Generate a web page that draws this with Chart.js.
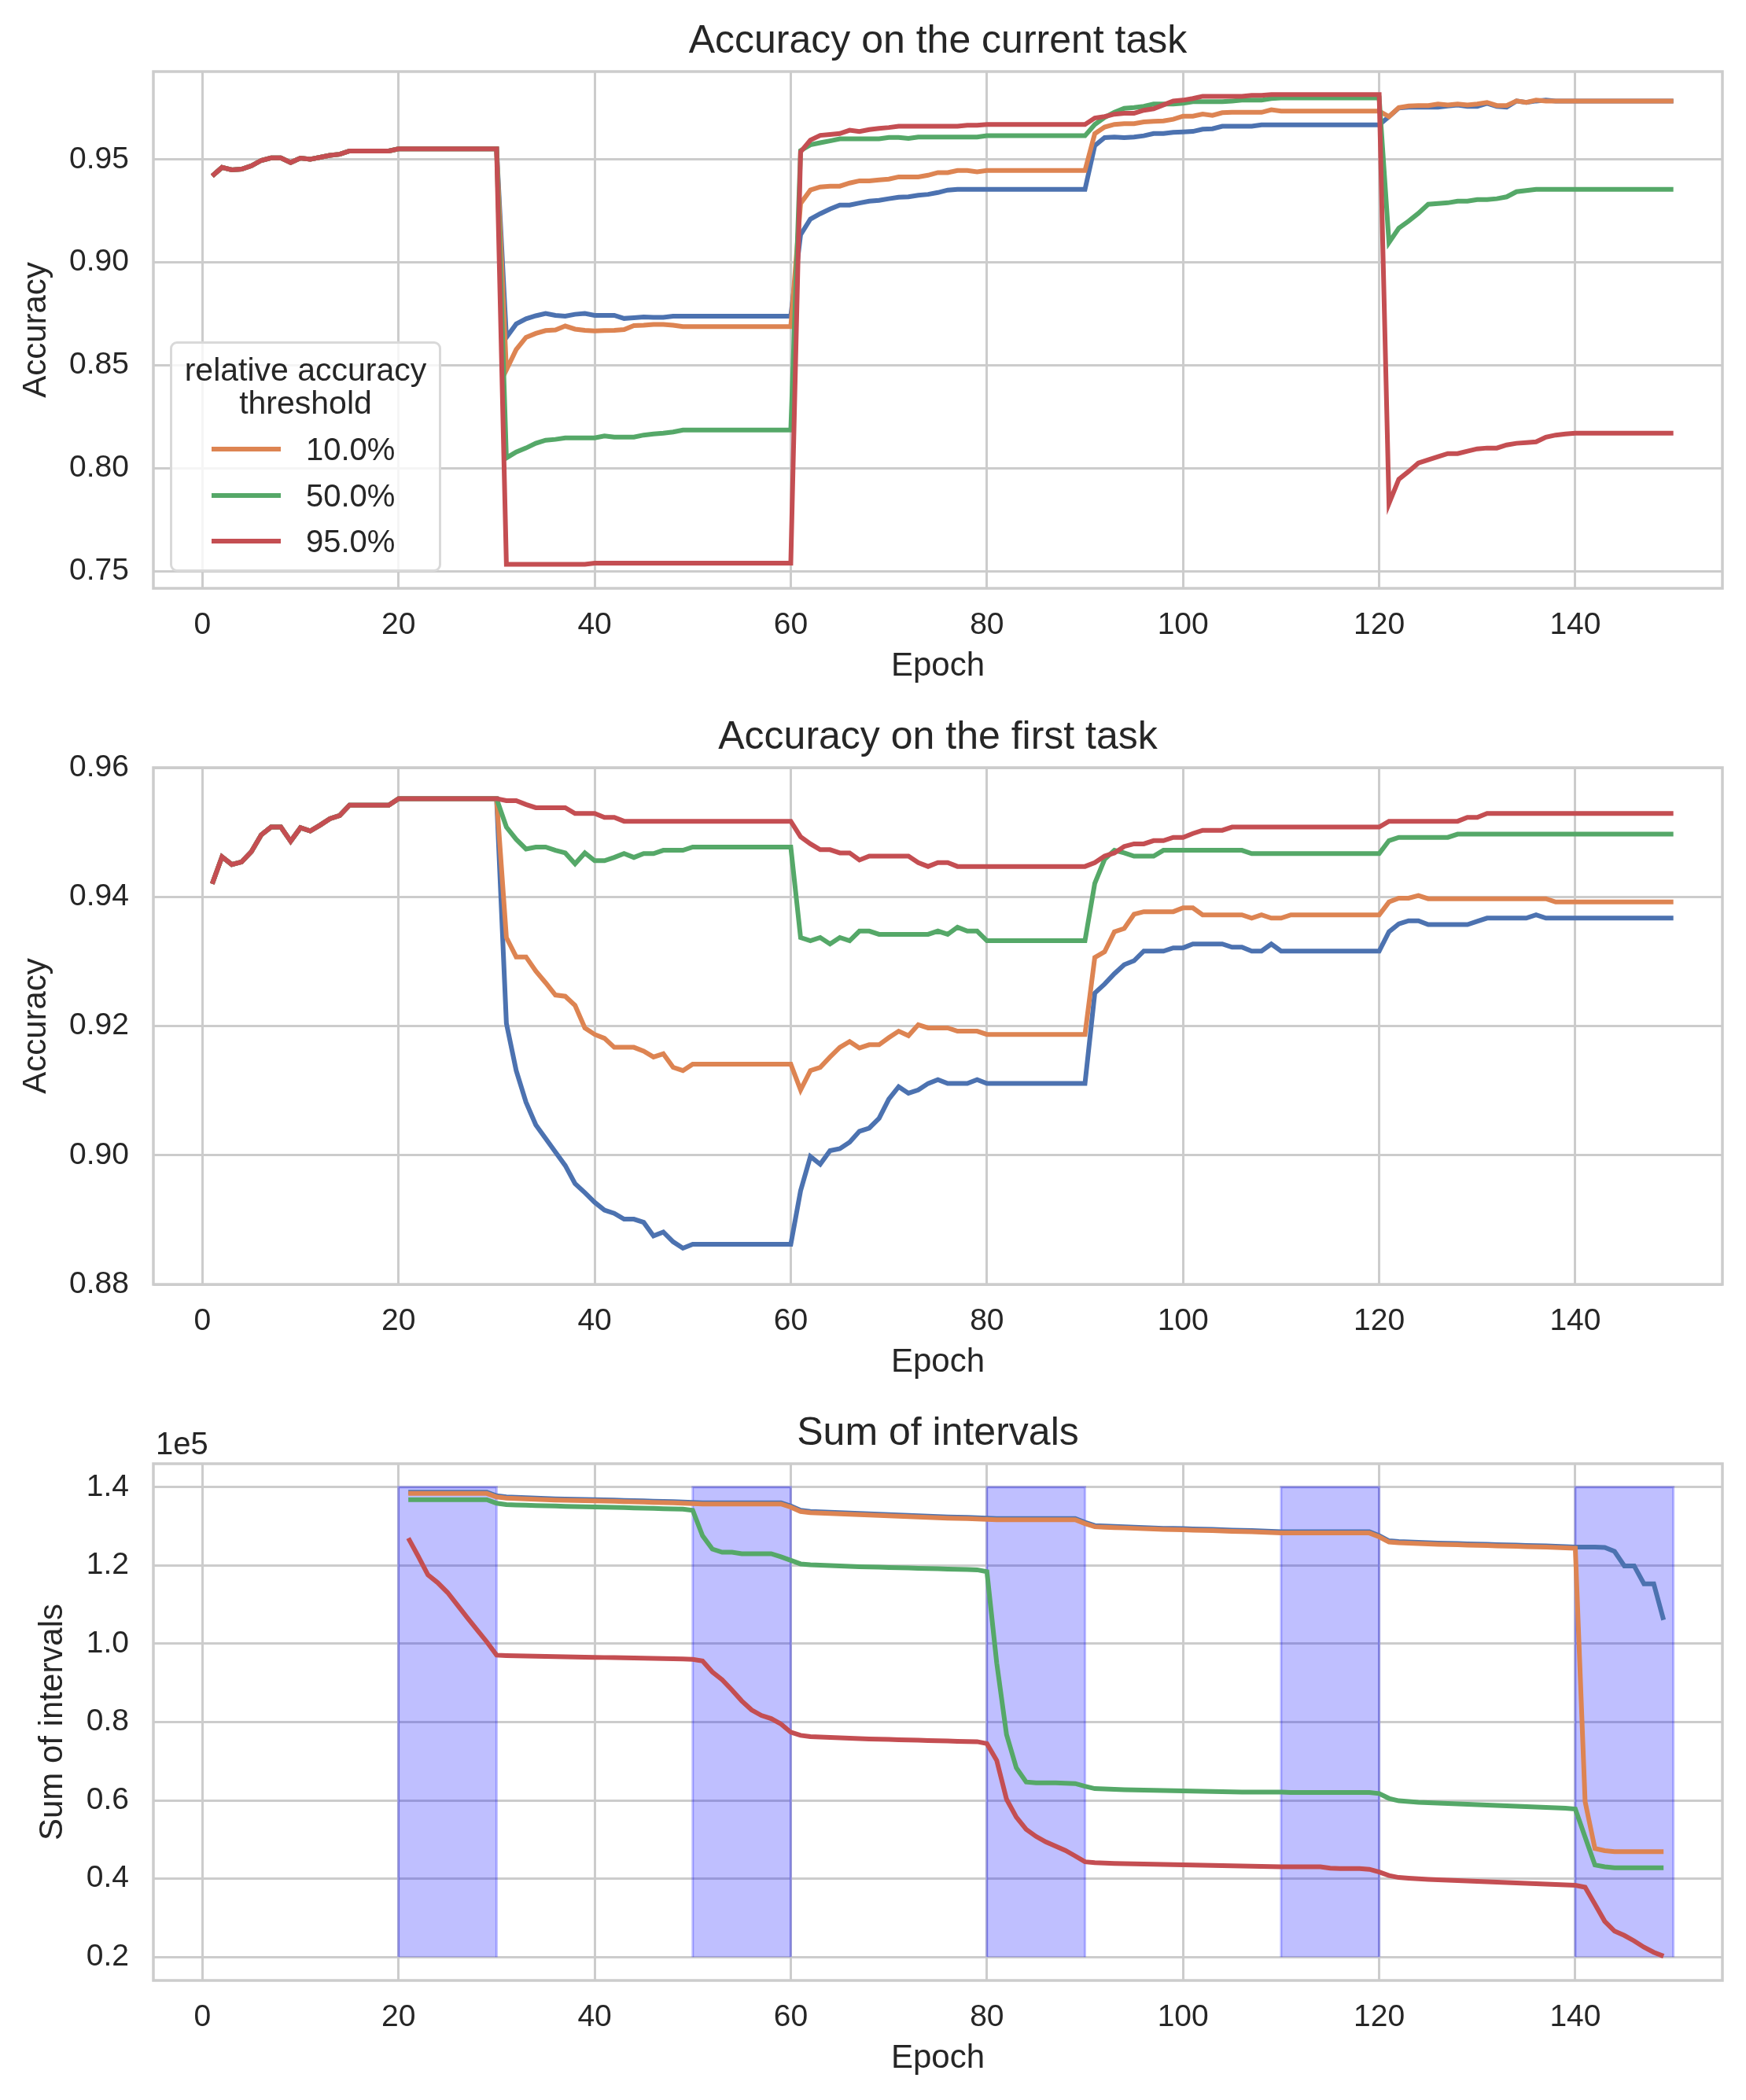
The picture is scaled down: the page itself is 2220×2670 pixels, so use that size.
<!DOCTYPE html>
<html>
<head>
<meta charset="utf-8">
<title>Accuracy and sum of intervals</title>
<script src="https://cdn.jsdelivr.net/npm/chart.js@4.4.1/dist/chart.umd.min.js"></script>
<style>
  html, body { margin: 0; padding: 0; background: #fff; }
  body { width: 2220px; height: 2670px; position: relative; overflow: hidden;
         font-family: 'Liberation Sans', Arial, sans-serif; color: #262626; }
  .panel { position: absolute; left: 0; width: 2220px; height: 880px; }
  .panel canvas { display: block; }
  #legend { position: absolute; left: 216px; top: 434px; width: 339px; height: 287px;
            border: 3px solid #d9d9d9; border-radius: 9px; background: rgba(255,255,255,0.8); }
  #legend .t { position: absolute; left: 0; width: 100%; text-align: center; font-size: 41px;
               height: 50px; line-height: 50px; white-space: nowrap; }
  #legend .row { position: absolute; left: 0; width: 100%; height: 50px; }
  #legend .swatch { position: absolute; left: 50px; top: 22px; width: 88px; height: 6px; }
  #legend .lab { position: absolute; left: 170px; top: 0; font-size: 40px; line-height: 50px; }
</style>
</head>
<body>
<div class="panel" style="top:0px"><canvas id="current" width="2220" height="880"></canvas></div>
<div class="panel" style="top:885px"><canvas id="first" width="2220" height="880"></canvas></div>
<div class="panel" style="top:1770px"><canvas id="sums" width="2220" height="880"></canvas></div>
<div id="legend"></div>

<script>
// epochs 1..150 on the accuracy panels, 21..149 on the intervals panel
var epochs = [];
for (var e = 1; e <= 150; e++) epochs.push(e);
var sumEpochs = epochs.slice(20, 149);

var thresholds = ['', '10.0%', '50.0%', '95.0%'];
var legendTitle = ['relative accuracy', 'threshold'];

var xTicks = [0, 20, 40, 60, 80, 100, 120, 140];
var yTicksCurrent = [0.75, 0.80, 0.85, 0.90, 0.95];
var yTicksFirst = [0.88, 0.90, 0.92, 0.94, 0.96];
var yTicksSum = [20000, 40000, 60000, 80000, 100000, 120000, 140000];

// training on the first task, epochs 1-30 (same for every threshold)
var warmup = [
  0.9420,0.9462,0.9450,0.9454,0.9470,0.9496,0.9508,0.9508,0.9486,0.9507,
  0.9502,0.9511,0.9521,0.9526,0.9542,0.9542,0.9542,0.9542,0.9542,0.9552,
  0.9552,0.9552,0.9552,0.9552,0.9552,0.9552,0.9552,0.9552,0.9552,0.9552
];

// accuracy on the current task, epochs 31-150
var curBlue = [
  0.8636,0.8701,0.8726,0.8741,0.8752,0.8743,0.8739,0.8748,0.8752,0.8743,
  0.8743,0.8743,0.8728,0.8731,0.8735,0.8733,0.8733,0.8739,0.8739,0.8739,
  0.8739,0.8739,0.8739,0.8739,0.8739,0.8739,0.8739,0.8739,0.8739,0.8739,
  0.9135,0.9211,0.9237,0.9260,0.9279,0.9279,0.9289,0.9298,0.9302,0.9310,
  0.9317,0.9319,0.9327,0.9331,0.9340,0.9352,0.9355,0.9355,0.9355,0.9355,
  0.9355,0.9355,0.9355,0.9355,0.9355,0.9355,0.9355,0.9355,0.9355,0.9355,
  0.9568,0.9607,0.9610,0.9607,0.9610,0.9616,0.9627,0.9627,0.9633,0.9635,
  0.9637,0.9648,0.9650,0.9662,0.9662,0.9662,0.9662,0.9669,0.9669,0.9669,
  0.9669,0.9669,0.9669,0.9669,0.9669,0.9669,0.9669,0.9669,0.9669,0.9669,
  0.9709,0.9751,0.9755,0.9755,0.9755,0.9755,0.9761,0.9765,0.9759,0.9759,
  0.9774,0.9759,0.9755,0.9785,0.9778,0.9785,0.9789,0.9785,0.9785,0.9785,
  0.9785,0.9785,0.9785,0.9785,0.9785,0.9785,0.9785,0.9785,0.9785,0.9785
];
var curOrange = [
  0.8478,0.8577,0.8636,0.8655,0.8669,0.8672,0.8691,0.8676,0.8670,0.8667,
  0.8669,0.8670,0.8674,0.8693,0.8695,0.8699,0.8699,0.8695,0.8688,0.8688,
  0.8688,0.8688,0.8688,0.8688,0.8688,0.8688,0.8688,0.8688,0.8688,0.8688,
  0.9287,0.9352,0.9367,0.9371,0.9371,0.9386,0.9397,0.9397,0.9401,0.9405,
  0.9416,0.9416,0.9416,0.9424,0.9437,0.9437,0.9447,0.9447,0.9441,0.9447,
  0.9447,0.9447,0.9447,0.9447,0.9447,0.9447,0.9447,0.9447,0.9447,0.9447,
  0.9626,0.9658,0.9671,0.9675,0.9675,0.9683,0.9686,0.9688,0.9696,0.9711,
  0.9711,0.9721,0.9715,0.9728,0.9730,0.9730,0.9730,0.9730,0.9742,0.9736,
  0.9736,0.9736,0.9736,0.9736,0.9736,0.9736,0.9736,0.9736,0.9736,0.9736,
  0.9709,0.9753,0.9761,0.9763,0.9763,0.9770,0.9766,0.9770,0.9766,0.9770,
  0.9778,0.9763,0.9763,0.9785,0.9778,0.9789,0.9785,0.9785,0.9785,0.9785,
  0.9785,0.9785,0.9785,0.9785,0.9785,0.9785,0.9785,0.9785,0.9785,0.9785
];
var curGreen = [
  0.8050,0.8079,0.8098,0.8121,0.8136,0.8140,0.8147,0.8147,0.8147,0.8147,
  0.8157,0.8151,0.8151,0.8151,0.8161,0.8166,0.8170,0.8176,0.8185,0.8185,
  0.8185,0.8185,0.8185,0.8185,0.8185,0.8185,0.8185,0.8185,0.8185,0.8185,
  0.9544,0.9572,0.9582,0.9591,0.9601,0.9601,0.9601,0.9601,0.9601,0.9608,
  0.9608,0.9603,0.9610,0.9610,0.9610,0.9610,0.9610,0.9610,0.9610,0.9616,
  0.9616,0.9616,0.9616,0.9616,0.9616,0.9616,0.9616,0.9616,0.9616,0.9616,
  0.9671,0.9705,0.9730,0.9749,0.9753,0.9759,0.9770,0.9770,0.9770,0.9774,
  0.9782,0.9782,0.9782,0.9782,0.9785,0.9789,0.9789,0.9789,0.9797,0.9800,
  0.9800,0.9800,0.9800,0.9800,0.9800,0.9800,0.9800,0.9800,0.9800,0.9800,
  0.9097,0.9167,0.9201,0.9239,0.9283,0.9287,0.9290,0.9298,0.9298,0.9306,
  0.9306,0.9310,0.9319,0.9344,0.9350,0.9355,0.9355,0.9355,0.9355,0.9355,
  0.9355,0.9355,0.9355,0.9355,0.9355,0.9355,0.9355,0.9355,0.9355,0.9355
];
var curRed = [
  0.7533,0.7533,0.7533,0.7533,0.7533,0.7533,0.7533,0.7533,0.7533,0.7538,
  0.7538,0.7538,0.7538,0.7538,0.7538,0.7538,0.7538,0.7538,0.7538,0.7538,
  0.7538,0.7538,0.7538,0.7538,0.7538,0.7538,0.7538,0.7538,0.7538,0.7538,
  0.9538,0.9595,0.9618,0.9622,0.9627,0.9643,0.9637,0.9646,0.9652,0.9656,
  0.9662,0.9662,0.9662,0.9662,0.9662,0.9662,0.9662,0.9667,0.9667,0.9671,
  0.9671,0.9671,0.9671,0.9671,0.9671,0.9671,0.9671,0.9671,0.9671,0.9671,
  0.9702,0.9709,0.9721,0.9725,0.9725,0.9740,0.9747,0.9766,0.9785,0.9789,
  0.9797,0.9808,0.9808,0.9808,0.9808,0.9808,0.9812,0.9812,0.9816,0.9816,
  0.9816,0.9816,0.9816,0.9816,0.9816,0.9816,0.9816,0.9816,0.9816,0.9816,
  0.7828,0.7946,0.7984,0.8025,0.8041,0.8056,0.8071,0.8071,0.8083,0.8094,
  0.8098,0.8098,0.8113,0.8121,0.8124,0.8128,0.8151,0.8161,0.8166,0.8170,
  0.8170,0.8170,0.8170,0.8170,0.8170,0.8170,0.8170,0.8170,0.8170,0.8170
];

// accuracy on the first task, epochs 31-150
var firstBlue = [
  0.9204,0.9131,0.9082,0.9047,0.9026,0.9005,0.8984,0.8956,0.8942,0.8927,
  0.8915,0.8910,0.8901,0.8901,0.8896,0.8875,0.8881,0.8866,0.8856,0.8862,
  0.8862,0.8862,0.8862,0.8862,0.8862,0.8862,0.8862,0.8862,0.8862,0.8862,
  0.8945,0.8998,0.8986,0.9007,0.9010,0.9020,0.9037,0.9042,0.9057,0.9087,
  0.9106,0.9096,0.9101,0.9111,0.9117,0.9111,0.9111,0.9111,0.9117,0.9111,
  0.9111,0.9111,0.9111,0.9111,0.9111,0.9111,0.9111,0.9111,0.9111,0.9111,
  0.9251,0.9265,0.9281,0.9295,0.9301,0.9316,0.9316,0.9316,0.9321,0.9321,
  0.9327,0.9327,0.9327,0.9327,0.9322,0.9322,0.9316,0.9316,0.9327,0.9316,
  0.9316,0.9316,0.9316,0.9316,0.9316,0.9316,0.9316,0.9316,0.9316,0.9316,
  0.9346,0.9358,0.9363,0.9363,0.9357,0.9357,0.9357,0.9357,0.9357,0.9362,
  0.9367,0.9367,0.9367,0.9367,0.9367,0.9372,0.9367,0.9367,0.9367,0.9367,
  0.9367,0.9367,0.9367,0.9367,0.9367,0.9367,0.9367,0.9367,0.9367,0.9367
];
var firstOrange = [
  0.9337,0.9307,0.9307,0.9285,0.9267,0.9248,0.9246,0.9232,0.9197,0.9187,
  0.9181,0.9167,0.9167,0.9167,0.9161,0.9152,0.9157,0.9136,0.9131,0.9141,
  0.9141,0.9141,0.9141,0.9141,0.9141,0.9141,0.9141,0.9141,0.9141,0.9141,
  0.9101,0.9131,0.9136,0.9152,0.9167,0.9176,0.9166,0.9171,0.9171,0.9182,
  0.9192,0.9185,0.9202,0.9197,0.9197,0.9197,0.9192,0.9192,0.9192,0.9187,
  0.9187,0.9187,0.9187,0.9187,0.9187,0.9187,0.9187,0.9187,0.9187,0.9187,
  0.9306,0.9315,0.9346,0.9351,0.9373,0.9377,0.9377,0.9377,0.9377,0.9383,
  0.9383,0.9372,0.9372,0.9372,0.9372,0.9372,0.9367,0.9372,0.9367,0.9367,
  0.9372,0.9372,0.9372,0.9372,0.9372,0.9372,0.9372,0.9372,0.9372,0.9372,
  0.9392,0.9398,0.9398,0.9402,0.9397,0.9397,0.9397,0.9397,0.9397,0.9397,
  0.9397,0.9397,0.9397,0.9397,0.9397,0.9397,0.9397,0.9392,0.9392,0.9392,
  0.9392,0.9392,0.9392,0.9392,0.9392,0.9392,0.9392,0.9392,0.9392,0.9392
];
var firstGreen = [
  0.9508,0.9489,0.9474,0.9477,0.9477,0.9472,0.9468,0.9451,0.9468,0.9456,
  0.9456,0.9461,0.9467,0.9461,0.9467,0.9467,0.9472,0.9472,0.9472,0.9477,
  0.9477,0.9477,0.9477,0.9477,0.9477,0.9477,0.9477,0.9477,0.9477,0.9477,
  0.9337,0.9332,0.9337,0.9327,0.9337,0.9332,0.9347,0.9347,0.9342,0.9342,
  0.9342,0.9342,0.9342,0.9342,0.9347,0.9342,0.9353,0.9347,0.9347,0.9332,
  0.9332,0.9332,0.9332,0.9332,0.9332,0.9332,0.9332,0.9332,0.9332,0.9332,
  0.9421,0.9458,0.9472,0.9468,0.9463,0.9463,0.9463,0.9472,0.9472,0.9472,
  0.9472,0.9472,0.9472,0.9472,0.9472,0.9472,0.9467,0.9467,0.9467,0.9467,
  0.9467,0.9467,0.9467,0.9467,0.9467,0.9467,0.9467,0.9467,0.9467,0.9467,
  0.9487,0.9492,0.9492,0.9492,0.9492,0.9492,0.9492,0.9497,0.9497,0.9497,
  0.9497,0.9497,0.9497,0.9497,0.9497,0.9497,0.9497,0.9497,0.9497,0.9497,
  0.9497,0.9497,0.9497,0.9497,0.9497,0.9497,0.9497,0.9497,0.9497,0.9497
];
var firstRed = [
  0.9549,0.9549,0.9543,0.9538,0.9538,0.9538,0.9538,0.9529,0.9529,0.9529,
  0.9523,0.9523,0.9517,0.9517,0.9517,0.9517,0.9517,0.9517,0.9517,0.9517,
  0.9517,0.9517,0.9517,0.9517,0.9517,0.9517,0.9517,0.9517,0.9517,0.9517,
  0.9493,0.9482,0.9473,0.9473,0.9468,0.9468,0.9457,0.9463,0.9463,0.9463,
  0.9463,0.9463,0.9453,0.9447,0.9453,0.9453,0.9447,0.9447,0.9447,0.9447,
  0.9447,0.9447,0.9447,0.9447,0.9447,0.9447,0.9447,0.9447,0.9447,0.9447,
  0.9453,0.9463,0.9468,0.9478,0.9482,0.9482,0.9487,0.9487,0.9492,0.9492,
  0.9498,0.9503,0.9503,0.9503,0.9508,0.9508,0.9508,0.9508,0.9508,0.9508,
  0.9508,0.9508,0.9508,0.9508,0.9508,0.9508,0.9508,0.9508,0.9508,0.9508,
  0.9517,0.9517,0.9517,0.9517,0.9517,0.9517,0.9517,0.9517,0.9523,0.9523,
  0.9529,0.9529,0.9529,0.9529,0.9529,0.9529,0.9529,0.9529,0.9529,0.9529,
  0.9529,0.9529,0.9529,0.9529,0.9529,0.9529,0.9529,0.9529,0.9529,0.9529
];

// sum of intervals, epochs 21-149
var sumBlue = [
  138700,138700,138700,138700,138700,138700,138700,138700,138700,137800,
  137500,137400,137300,137200,137100,137000,136950,136900,136850,136800,
  136750,136700,136600,136550,136500,136400,136350,136300,136200,136100,
  136000,136000,136000,136000,136000,136000,136000,136000,136000,135200,
  134100,133800,133700,133600,133500,133400,133300,133200,133100,133000,
  132900,132800,132700,132600,132500,132400,132350,132300,132200,132100,
  132000,132000,132000,132000,132000,132000,132000,132000,132000,131000,
  130200,130100,130000,129900,129800,129700,129600,129500,129450,129400,
  129300,129250,129200,129100,129000,128950,128900,128800,128700,128600,
  128600,128600,128600,128600,128600,128600,128600,128600,128600,127600,
  126300,126100,126000,125900,125800,125700,125650,125600,125500,125450,
  125400,125300,125250,125200,125100,125050,125000,124900,124800,124700,
  124700,124700,124600,123600,119900,119900,115300,115300,106100
];
var sumOrange = [
  138400,138400,138400,138400,138400,138400,138400,138400,138400,137500,
  137200,137100,137000,136900,136800,136700,136650,136600,136550,136500,
  136450,136400,136300,136250,136200,136100,136050,136000,135900,135800,
  135700,135700,135700,135700,135700,135700,135700,135700,135700,134900,
  133800,133500,133400,133300,133200,133100,133000,132900,132800,132700,
  132600,132500,132400,132300,132200,132100,132050,132000,131900,131800,
  131700,131700,131700,131700,131700,131700,131700,131700,131700,130700,
  129900,129800,129700,129600,129500,129400,129300,129200,129150,129100,
  129000,128950,128900,128800,128700,128650,128600,128500,128400,128300,
  128300,128300,128300,128300,128300,128300,128300,128300,128300,127300,
  126000,125800,125700,125600,125500,125400,125350,125300,125200,125150,
  125100,125000,124950,124900,124800,124750,124700,124600,124500,124400,
  59700,47700,47150,46900,46900,46900,46900,46900,46900
];
var sumGreen = [
  136800,136800,136800,136800,136800,136800,136800,136800,136800,135900,
  135550,135450,135400,135300,135250,135200,135100,135050,135000,134950,
  134900,134850,134800,134700,134650,134600,134500,134450,134400,134100,
  127600,124200,123400,123400,123000,123000,123000,123000,122200,121300,
  120400,120200,120100,120000,119900,119800,119700,119650,119600,119500,
  119450,119400,119300,119250,119200,119100,119050,119000,118900,118400,
  95100,76800,68300,64700,64500,64500,64500,64400,64300,63600,
  63000,62900,62800,62700,62650,62600,62550,62500,62450,62400,
  62350,62300,62250,62200,62150,62100,62100,62100,62100,62100,
  62000,62000,62000,62000,62000,62000,62000,62000,62000,61750,
  60500,59900,59700,59500,59400,59300,59200,59100,59000,58900,
  58800,58700,58600,58500,58400,58300,58200,58100,58000,57800,
  50600,43500,43050,42800,42800,42800,42800,42800,42800
];
var sumRed = [
  127000,122400,117600,115600,113100,109900,106700,103600,100500,97100,
  97000,96950,96900,96850,96800,96750,96700,96650,96600,96550,
  96500,96450,96400,96350,96300,96250,96200,96150,96100,96000,
  95600,92800,90800,88200,85400,83100,81700,80900,79500,77400,
  76600,76300,76200,76100,76000,75900,75800,75700,75650,75600,
  75500,75450,75400,75300,75250,75200,75100,75050,75000,74500,
  70200,60300,55700,52600,50800,49400,48300,47200,45800,44300,
  44100,44000,43900,43850,43800,43750,43700,43650,43600,43550,
  43500,43450,43400,43350,43300,43250,43200,43150,43100,43050,
  43050,43050,43050,43050,42700,42600,42600,42600,42400,41700,
  40800,40300,40100,39950,39800,39700,39600,39500,39400,39300,
  39200,39100,39000,38900,38800,38700,38600,38500,38400,38300,
  37800,33500,29100,26600,25500,24100,22500,21200,20200
];

// shaded epochs on the intervals panel
var spanStart = [20, 50, 80, 110, 140];
var spanEnd = [30, 60, 90, 120, 150];
var spanLow = 20000, spanHigh = 140000;

var FONT = "'Liberation Sans', Arial, sans-serif";
var INK = '#262626';
var GRID = '#cccccc';
var palette = ['#4c72b0', '#dd8452', '#55a868', '#c44e52'];

function pts(xs, ys) {
  return ys.map(function (y, i) { return { x: xs[i], y: y }; });
}

function series(xs, lists) {
  return lists.map(function (ys, i) {
    return {
      label: thresholds[i],
      data: pts(xs, ys),
      borderColor: palette[i],
      backgroundColor: palette[i],
      borderWidth: 6,
      pointRadius: 0,
      fill: false,
      order: 3 - i
    };
  });
}

var spans = spanStart.map(function (s, i) {
  return {
    label: '',
    data: [{ x: s, y: spanLow }, { x: s, y: spanHigh }, { x: spanEnd[i], y: spanHigh }, { x: spanEnd[i], y: spanLow }],
    fill: { value: spanLow },
    backgroundColor: 'rgba(0,0,255,0.25)',
    borderColor: 'rgba(0,0,255,0.25)',
    borderWidth: 3,
    pointRadius: 0,
    order: 10
  };
});

var frame = {
  id: 'frame',
  afterDatasetsDraw: function (chart) {
    var a = chart.chartArea, c = chart.ctx;
    c.save();
    c.strokeStyle = GRID;
    c.lineWidth = 3.5;
    c.strokeRect(a.left, a.top, a.right - a.left, a.bottom - a.top);
    c.restore();
  }
};

var heading = {
  id: 'heading',
  afterDraw: function (chart, args, opts) {
    var a = chart.chartArea, c = chart.ctx;
    c.save();
    c.fillStyle = INK;
    c.font = '50px ' + FONT;
    c.textAlign = 'center';
    c.textBaseline = 'alphabetic';
    c.fillText(opts.text, (a.left + a.right) / 2, a.top - 24);
    if (opts.offset) {
      c.font = '40px ' + FONT;
      c.textAlign = 'left';
      c.fillText(opts.offset, a.left + 3, a.top - 12);
    }
    c.restore();
  }
};

function panel(id, datasets, range, yTicks, fmt, yTitle, yTitlePad, title, offset) {
  return new Chart(document.getElementById(id), {
    type: 'line',
    data: { datasets: datasets },
    options: {
      responsive: false,
      animation: false,
      devicePixelRatio: 1,
      layout: { padding: { top: 91, right: 30, bottom: 0, left: 0 } },
      plugins: {
        legend: { display: false },
        tooltip: { enabled: false },
        heading: { text: title, offset: offset }
      },
      scales: {
        x: {
          type: 'linear',
          min: -5,
          max: 155,
          afterBuildTicks: function (s) { s.ticks = xTicks.map(function (v) { return { value: v }; }); },
          afterFit: function (s) { s.height = 132; },
          grid: { color: GRID, lineWidth: 3, drawTicks: false },
          border: { display: false },
          ticks: { color: INK, font: { family: FONT, size: 39 }, padding: 24, maxRotation: 0,
                   callback: function (v) { return String(v); } },
          title: { display: true, text: 'Epoch', color: INK, font: { family: FONT, size: 42 },
                   padding: { top: 0, bottom: 7 } }
        },
        y: {
          type: 'linear',
          min: range[0],
          max: range[1],
          afterBuildTicks: function (s) { s.ticks = yTicks.map(function (v) { return { value: v }; }); },
          afterFit: function (s) { s.width = 195; },
          grid: { color: GRID, lineWidth: 3, drawTicks: false },
          border: { display: false },
          ticks: { color: INK, font: { family: FONT, size: 39 }, padding: 31, callback: fmt },
          title: { display: true, text: yTitle, color: INK, font: { family: FONT, size: 42 },
                   padding: { top: yTitlePad, bottom: 0 } }
        }
      }
    },
    plugins: [frame, heading]
  });
}

var current = panel('current',
  series(epochs, [warmup.concat(curBlue), warmup.concat(curOrange), warmup.concat(curGreen), warmup.concat(curRed)]),
  [0.7416, 0.9928], yTicksCurrent, function (v) { return v.toFixed(2); },
  'Accuracy', 21, 'Accuracy on the current task', '');

var first = panel('first',
  series(epochs, [warmup.concat(firstBlue), warmup.concat(firstOrange), warmup.concat(firstGreen), warmup.concat(firstRed)]),
  [0.88, 0.96], yTicksFirst, function (v) { return v.toFixed(2); },
  'Accuracy', 21, 'Accuracy on the first task', '');

var sums = panel('sums',
  series(sumEpochs, [sumBlue, sumOrange, sumGreen, sumRed]).concat(spans),
  [14000, 146000], yTicksSum, function (v) { return (v / 1e5).toFixed(1); },
  'Sum of intervals', 42, 'Sum of intervals', '1e5');

// legend inside the first panel, built from its datasets
var legendBox = document.getElementById('legend');
legendTitle.forEach(function (line, i) {
  var t = document.createElement('div');
  t.className = 't';
  t.style.top = (8 + i * 42) + 'px';
  t.textContent = line;
  legendBox.appendChild(t);
});
var k = 0;
current.data.datasets.forEach(function (ds) {
  if (!ds.label) return;
  var row = document.createElement('div');
  row.className = 'row';
  row.style.top = (109 + k * 58.5) + 'px';
  var sw = document.createElement('span');
  sw.className = 'swatch';
  sw.style.background = ds.borderColor;
  var lab = document.createElement('span');
  lab.className = 'lab';
  lab.textContent = ds.label;
  row.appendChild(sw);
  row.appendChild(lab);
  legendBox.appendChild(row);
  k++;
});
</script>
</body>
</html>
